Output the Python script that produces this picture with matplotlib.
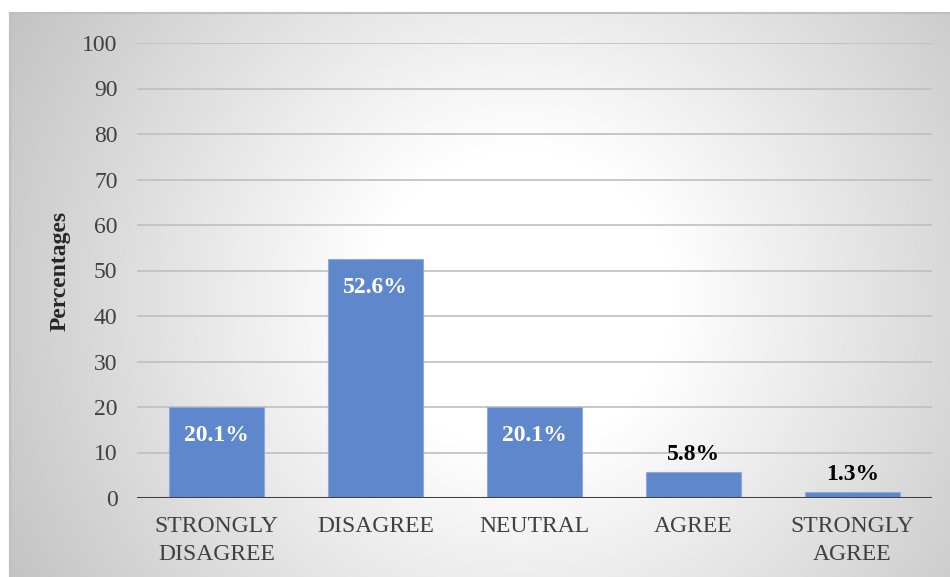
import numpy as np
import matplotlib.pyplot as plt
from matplotlib.lines import Line2D

categories = ["STRONGLY\nDISAGREE", "DISAGREE", "NEUTRAL", "AGREE", "STRONGLY\nAGREE"]
percentages = [20.1, 52.6, 20.1, 5.8, 1.3]
yticks = [0, 10, 20, 30, 40, 50, 60, 70, 80, 90, 100]

W, H = 950, 577
plt.rcParams['font.family'] = ['Liberation Serif', 'DejaVu Serif']

fig = plt.figure(figsize=(W / 100, H / 100), dpi=100)
fig.patch.set_facecolor('white')

# radial grey-to-white backdrop inside the chart frame
bg = fig.add_axes([0, 0, 1, 1], zorder=0)
yy, xx = np.mgrid[0:H, 0:W]
r = np.hypot(xx - 520, yy - 300)
shade = np.clip(1.0 - 0.00054 * np.clip(r - 150, 0, None), 0, 1)
shade[:, :10] = 1.0
shade[:13, :] = 1.0
img = np.dstack([shade, shade, shade])
bg.imshow(img, extent=[0, W, H, 0], aspect='auto', interpolation='bilinear')
bg.set_xlim(0, W)
bg.set_ylim(H, 0)
bg.axis('off')
bg.add_line(Line2D([10, 10], [13, H], color='#bfbfbf', lw=1.5))
bg.add_line(Line2D([10, W], [13, 13], color='#bfbfbf', lw=1.5))

ax = fig.add_axes([137 / W, 1 - 498 / H, (932 - 137) / W, (498 - 43) / H], zorder=1)
ax.patch.set_alpha(0)

x = np.arange(len(categories))
bars = ax.bar(x, percentages, width=0.6, color='#5f87cb', edgecolor='#8eaadc',
              linewidth=0.8, zorder=3)

ax.set_xlim(-0.5, len(categories) - 0.5)
ax.set_ylim(0, 100)
ax.set_yticks(yticks)
ax.set_yticklabels([str(t) for t in yticks])
ax.set_xticks(x)
ax.set_xticklabels(categories, linespacing=1.45)
ax.tick_params(axis='y', length=0, pad=14, labelsize=17, labelcolor='#404040')
ax.tick_params(axis='x', length=0, pad=13, labelsize=17, labelcolor='#404040')

for t in yticks[1:]:
    ax.axhline(t, color='#bfbfbf', lw=1.2, zorder=1)
ax.axhline(0, color='#404040', lw=2.2, zorder=4)

for s in ax.spines.values():
    s.set_visible(False)

ax.set_ylabel('Percentages', fontsize=17, fontweight='bold', color='#262626', labelpad=8)

for rect, val in zip(bars, percentages):
    cx = rect.get_x() + rect.get_width() / 2
    if val > 10:
        ax.annotate(f'{val}%', (cx, val), xytext=(0, -13), textcoords='offset points',
                    ha='center', va='top', fontsize=17, fontweight='bold', color='white', zorder=5)
    else:
        ax.annotate(f'{val}%', (cx, val), xytext=(0, 5), textcoords='offset points',
                    ha='center', va='bottom', fontsize=17, fontweight='bold', color='black', zorder=5)

fig.savefig('out.png', dpi=100)
